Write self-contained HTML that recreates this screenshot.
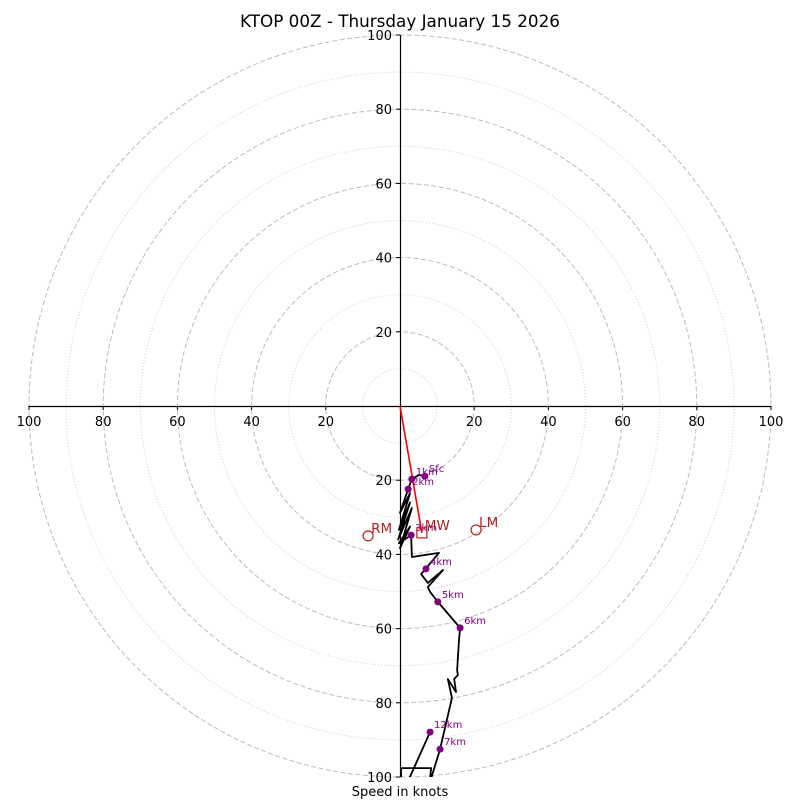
<!DOCTYPE html>
<html><head><meta charset="utf-8"><style>
body{margin:0;background:#fff;font-family:"Liberation Sans","DejaVu Sans",sans-serif}
svg text{font-family:"DejaVu Sans","Liberation Sans",sans-serif}
</style></head><body>
<svg id="c" width="800" height="800" viewBox="0 0 800 800">
<defs><clipPath id="clip"><rect x="29" y="35" width="742" height="742"/></clipPath></defs>
<text x="400" y="27" text-anchor="middle" font-size="16.8">KTOP 00Z - Thursday January 15 2026</text>
<g id="grid"></g>
<g id="axes"></g>
<g id="plot" clip-path="url(#clip)"></g>
<text x="400" y="796" text-anchor="middle" font-size="13">Speed in knots</text>
</svg>
<script>
const ringMajor=[20,40,60,80,100];
const ringMinor=[10,30,50,70,90];
const tickLabels=[20,40,60,80,100];
const pathU=[6.7,5.1,3.2,2.2,0,2.7,-0.3,2.7,-0.5,3.2,0,2.7,-0.3,3.0,3.2,10.5,5.7,7.5,11.6,7.5,8.1,10.2,16.2,15.9,15.4,15.6,14.6,15.1,12.9,14.0,10.8,8.6,7.5,8.4,0.3,0.3,1.1,8.1];
const pathV=[-18.9,-18.6,-19.7,-22.4,-28.8,-23.5,-33.4,-26.0,-36.0,-27.5,-38.3,-32.5,-37.0,-34.8,-40.7,-39.6,-45.3,-47.7,-44.2,-48.8,-50.1,-52.8,-59.8,-63.1,-71.2,-72.5,-73.6,-77.1,-73.6,-78.7,-92.5,-99.7,-106,-97.6,-97.6,-103.5,-103.5,-87.9];
const mkLabels=["Sfc","1km","2km","3km","4km","5km","6km","7km","12km"];
const mkU=[6.7,3.2,2.2,3.0,7.0,10.2,16.2,10.8,8.1];
const mkV=[-18.9,-19.7,-22.4,-34.8,-43.9,-52.8,-59.8,-92.5,-87.9];
const motLabels=["RM","MW","LM"];
const motU=[-8.6,5.9,20.5];
const motV=[-35.0,-34.2,-33.4];
const cx=400,cy=406,k=3.71;
const X=u=>cx+u*k, Y=v=>cy-v*k;
const NS="http://www.w3.org/2000/svg";
function mk(t,a,p){const e=document.createElementNS(NS,t);for(const n in a)e.setAttribute(n,a[n]);p.appendChild(e);return e;}
const grid=document.getElementById('grid'),axes=document.getElementById('axes'),plot=document.getElementById('plot');
ringMajor.forEach(r=>{const e=mk('circle',{cx,cy,r:r*k,fill:'none',stroke:'#bdbdbd','stroke-dasharray':'5,2.5','stroke-width':1},grid);

});
ringMinor.forEach(r=>{const e=mk('circle',{cx,cy,r:r*k,fill:'none',stroke:'#cfcfcf','stroke-dasharray':'1,2','stroke-width':1},grid);

});
mk('line',{x1:X(-100),y1:cy+0.5,x2:X(100),y2:cy+0.5,stroke:'#000','stroke-width':1.2},axes);
mk('line',{x1:cx+0.5,y1:Y(100),x2:cx+0.5,y2:Y(-100),stroke:'#000','stroke-width':1.2},axes);
tickLabels.forEach(t=>{
  [t,-t].forEach(v=>{
    mk('line',{x1:cx-4,y1:Y(v),x2:cx,y2:Y(v),stroke:'#000'},axes);
    const e=mk('text',{x:cx-8,y:Y(v)+5,'text-anchor':'end','font-size':13},axes);e.textContent=t;
    
    
  });
  [t,-t].forEach(u=>{
    mk('line',{x1:X(u),y1:cy,x2:X(u),y2:cy+4,stroke:'#000'},axes);
    const e=mk('text',{x:X(u),y:cy+20,'text-anchor':'middle','font-size':13},axes);e.textContent=t;
    
    
  });
});
const red=mk('line',{x1:X(0),y1:Y(0),x2:X(motU[1]),y2:Y(motV[1]),stroke:'#ff0000','stroke-width':1.6},plot);


const pl=mk('polyline',{points:pathU.map((u,i)=>X(u)+','+Y(pathV[i])).join(' '),fill:'none',stroke:'#000','stroke-width':1.8,'stroke-linejoin':'round'},plot);


mkLabels.forEach((l,i)=>{
  const c=mk('circle',{cx:X(mkU[i]),cy:Y(mkV[i]),r:3.5,fill:'#800080'},plot);
  
  
  const t=mk('text',{x:X(mkU[i])+4,y:Y(mkV[i])-4,'font-size':10,fill:'#800080'},plot);t.textContent=l;
  
  
});
motLabels.forEach((l,i)=>{
  const x=X(motU[i]),y=Y(motV[i]);
  let m;
  if(l==='MW')m=mk('rect',{x:x-5,y:y-5,width:10,height:10,fill:'none',stroke:'#b22222','stroke-width':1.2},plot);
  else m=mk('circle',{cx:x,cy:y,r:5,fill:'none',stroke:'#b22222','stroke-width':1.2},plot);
  
  
  const t=mk('text',{x:x+3,y:y-3,'font-size':13.5,fill:'#b22222'},plot);t.textContent=l;
  
  
});
</script>
</body></html>
